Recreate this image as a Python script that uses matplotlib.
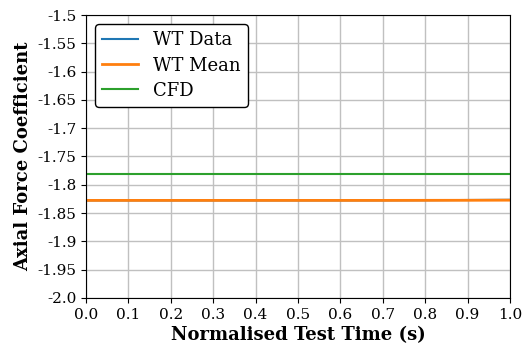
import numpy as np
import matplotlib.pyplot as plt

plt.rcParams['font.family'] = 'DejaVu Serif'

# datos
t_data = [0.0, 0.1, 0.2, 0.3, 0.4, 0.5, 0.6, 0.7, 0.8, 0.9, 1.0]
wt_data = [-1.8277, -1.8277, -1.8277, -1.8277, -1.8277, -1.8277, -1.8277,
           -1.8276, -1.8274, -1.8270, -1.8266]
wt_mean = [-1.8277, -1.8277, -1.8277, -1.8277, -1.8277, -1.8277, -1.8277,
           -1.8277, -1.8276, -1.8275, -1.8273]
cfd = -1.7815

yticks = [-1.5, -1.55, -1.6, -1.65, -1.7, -1.75, -1.8, -1.85, -1.9, -1.95, -2.0]
ylabels = ['-1.5', '-1.55', '-1.6', '-1.65', '-1.7', '-1.75', '-1.8', '-1.85',
           '-1.9', '-1.95', '-2.0']
xticks = [0.0, 0.1, 0.2, 0.3, 0.4, 0.5, 0.6, 0.7, 0.8, 0.9, 1.0]

fig = plt.figure(figsize=(5.23, 3.5), dpi=100)
ax = fig.add_axes([0.1644, 0.149, 0.8106, 0.808])

ax.plot(t_data, wt_data, color='tab:blue', lw=1.5, label='WT Data')
ax.plot(t_data, wt_mean, color='tab:orange', lw=2, label='WT Mean')
ax.plot([0, 1], [cfd, cfd], color='tab:green', lw=1.5, label='CFD')

ax.set_xlim(0, 1)
ax.set_ylim(-2.0, -1.5)
ax.set_yticks(yticks)
ax.set_yticklabels(ylabels)
ax.set_xticks(xticks)
ax.set_xticklabels(['%.1f' % x for x in xticks])
ax.tick_params(labelsize=11)
ax.grid(True, color='#c0c0c0', lw=1)

ax.set_xlabel('Normalised Test Time (s)', fontsize=13, fontweight='bold', labelpad=3)
ax.set_ylabel('Axial Force Coefficient', fontsize=13, fontweight='bold')

leg = ax.legend(loc='upper left', fontsize=13, framealpha=1, edgecolor='black',
                borderaxespad=0.5, labelspacing=0.4)
leg.get_frame().set_linewidth(1)

fig.savefig('out.png', dpi=100)
